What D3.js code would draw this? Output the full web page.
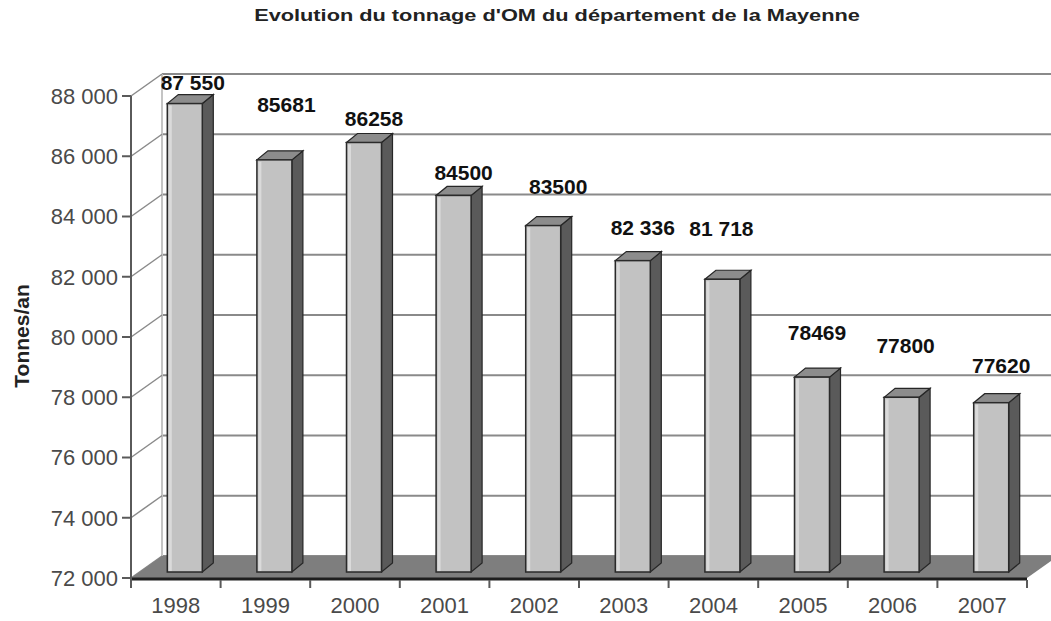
<!DOCTYPE html>
<html>
<head>
<meta charset="utf-8">
<script src="https://cdn.jsdelivr.net/npm/d3@7"></script>
<style>
  body { margin: 0; background: #fff; }
  text { font-family: "Liberation Sans", Arial, sans-serif; }
</style>
</head>
<body>
<div id="chart"></div>
<script>

// data
var years = ["1998", "1999", "2000", "2001", "2002", "2003", "2004", "2005", "2006", "2007"];
var tonnage = [87550, 85681, 86258, 84500, 83500, 82336, 81718, 78469, 77800, 77620];
var valueLabels = ["87 550", "85681", "86258", "84500", "83500", "82 336", "81 718", "78469", "77800", "77620"];
var yTicks = [72000, 74000, 76000, 78000, 80000, 82000, 84000, 86000, 88000];

var title = "Evolution du tonnage d'OM du département de la Mayenne";
var yTitle = "Tonnes/an";

// svg size
var w_svg = 1051;
var h_svg = 621;

var svg = d3.select("#chart")
  .append("svg")
    .attr("width", w_svg)
    .attr("height", h_svg);

// scales (front plane of the 3d box)
var xScale = d3.scaleBand().domain(years).range([131, 1027]);
var yScale = d3.scaleLinear().domain([72000, 88000]).range([578, 96]);

// depth of the box, and of the bars inside it
var depthX = 31, depthY = -22;
var barFrontX = 9, barFrontY = -6;
var barDepthX = 11, barDepthY = -9;
var barW = 35;

var fmt = d3.formatLocale({ decimal: ",", thousands: " ", grouping: [3] }).format(",");

// back wall gridlines
svg.selectAll(".grid")
  .data(yTicks)
  .enter()
  .append("line")
    .attr("x1", 131 + depthX)
    .attr("x2", w_svg)
    .attr("y1", function(d) { return yScale(d) + depthY; })
    .attr("y2", function(d) { return yScale(d) + depthY; })
    .attr("stroke", "#8a8a8a")
    .attr("stroke-width", 2);

// left wall: back edge and diagonals
svg.append("line")
  .attr("x1", 131 + depthX).attr("x2", 131 + depthX)
  .attr("y1", yScale(88000) + depthY).attr("y2", yScale(72000) + depthY)
  .attr("stroke", "#c4c4c4")
  .attr("stroke-width", 2);

svg.selectAll(".diag")
  .data(yTicks)
  .enter()
  .append("line")
    .attr("x1", 131)
    .attr("x2", 131 + depthX)
    .attr("y1", function(d) { return yScale(d); })
    .attr("y2", function(d) { return yScale(d) + depthY; })
    .attr("stroke", "#8a8a8a")
    .attr("stroke-width", 1.5);

// floor
var x0 = xScale.range()[0], x1 = xScale.range()[1], yf = yScale(72000);
svg.append("polygon")
  .attr("points", [[x0, yf], [x1, yf], [x1 + depthX, yf + depthY], [x0 + depthX, yf + depthY]].join(" "))
  .attr("fill", "#7e7e7e");

// bars
var bars = svg.selectAll(".bar")
  .data(tonnage)
  .enter()
  .append("g");

function bx(i) { return xScale(years[i]) + (xScale.bandwidth() - barW) / 2 + barFrontX; }
function byTop(d) { return yScale(d) + barFrontY; }
var byBottom = yScale(72000) + barFrontY;

// side face
bars.append("polygon")
  .attr("points", function(d, i) {
    var l = bx(i) + barW, t = byTop(d);
    return [[l, t], [l + barDepthX, t + barDepthY], [l + barDepthX, byBottom + barDepthY], [l, byBottom]].join(" ");
  })
  .attr("fill", "#5a5a5a")
  .attr("stroke", "#262626")
  .attr("stroke-width", 1.2);

// top face
bars.append("polygon")
  .attr("points", function(d, i) {
    var l = bx(i), t = byTop(d);
    return [[l, t], [l + barW, t], [l + barW + barDepthX, t + barDepthY], [l + barDepthX, t + barDepthY]].join(" ");
  })
  .attr("fill", "#8c8c8c")
  .attr("stroke", "#262626")
  .attr("stroke-width", 1.2);

// front face
bars.append("rect")
  .attr("x", function(d, i) { return bx(i); })
  .attr("y", function(d) { return byTop(d); })
  .attr("width", barW)
  .attr("height", function(d) { return byBottom - byTop(d); })
  .attr("fill", "#c2c2c2")
  .attr("stroke", "#2a2a2a")
  .attr("stroke-width", 1.5);

// light strip on the left of the front face
bars.append("line")
  .attr("x1", function(d, i) { return bx(i) + 3; })
  .attr("x2", function(d, i) { return bx(i) + 3; })
  .attr("y1", function(d) { return byTop(d) + 2; })
  .attr("y2", byBottom - 1)
  .attr("stroke", "#dadada")
  .attr("stroke-width", 3);

// front edge of the floor
svg.append("line")
  .attr("x1", x0).attr("x2", x1)
  .attr("y1", yf + 1).attr("y2", yf + 1)
  .attr("stroke", "#1e1e1e")
  .attr("stroke-width", 3);

// y axis
svg.append("line")
  .attr("x1", 131).attr("x2", 131)
  .attr("y1", yScale(88000)).attr("y2", yf + 10)
  .attr("stroke", "#5a5a5a")
  .attr("stroke-width", 2);

svg.selectAll(".ytick")
  .data(yTicks)
  .enter()
  .append("line")
    .attr("x1", 122).attr("x2", 131)
    .attr("y1", function(d) { return yScale(d); })
    .attr("y2", function(d) { return yScale(d); })
    .attr("stroke", "#5a5a5a")
    .attr("stroke-width", 2);

svg.selectAll(".ylab")
  .data(yTicks)
  .enter()
  .append("text")
    .attr("x", 118)
    .attr("y", function(d) { return yScale(d); })
    .attr("dy", "0.36em")
    .attr("text-anchor", "end")
    .style("font-size", "22px")
    .style("fill", "#4a4a4a")
    .text(function(d) { return fmt(d); });

// x ticks at band edges
var xEdges = years.map(function(y) { return xScale(y); }).concat([x1]);
svg.selectAll(".xtick")
  .data(xEdges)
  .enter()
  .append("line")
    .attr("x1", function(d) { return d; })
    .attr("x2", function(d) { return d; })
    .attr("y1", yf + 2)
    .attr("y2", yf + 10)
    .attr("stroke", "#5a5a5a")
    .attr("stroke-width", 2);

svg.selectAll(".xlab")
  .data(years)
  .enter()
  .append("text")
    .attr("x", function(d) { return xScale(d) + xScale.bandwidth() / 2; })
    .attr("y", yf + 35)
    .attr("text-anchor", "middle")
    .style("font-size", "22px")
    .style("fill", "#4a4a4a")
    .text(function(d) { return d; });

// value labels (placed by hand in the original, so nudged here)
var labelDx = [8, 12, 10, 10, 15, 10, -1, 5, 4, 10];
var labelDy = [-12, -46, -15, -14, -30, -24, -42, -36, -43, -28];

svg.selectAll(".vlab")
  .data(tonnage)
  .enter()
  .append("text")
    .attr("x", function(d, i) { return bx(i) + barW / 2 + labelDx[i]; })
    .attr("y", function(d, i) { return byTop(d) + barDepthY + labelDy[i]; })
    .attr("dy", "0.36em")
    .attr("text-anchor", "middle")
    .style("font-size", "21px")
    .style("font-weight", "bold")
    .style("fill", "#111")
    .text(function(d, i) { return valueLabels[i]; });

// title
svg.append("text")
  .attr("transform", "translate(557,21) scale(1.28,1)")
  .attr("text-anchor", "middle")
  .style("font-size", "17px")
  .style("font-weight", "bold")
  .style("fill", "#222")
  .text(title);

// y title
svg.append("text")
  .attr("transform", "translate(29,336) rotate(-90)")
  .attr("text-anchor", "middle")
  .style("font-size", "21px")
  .style("font-weight", "bold")
  .style("fill", "#222")
  .text(yTitle);

</script>
</body>
</html>
